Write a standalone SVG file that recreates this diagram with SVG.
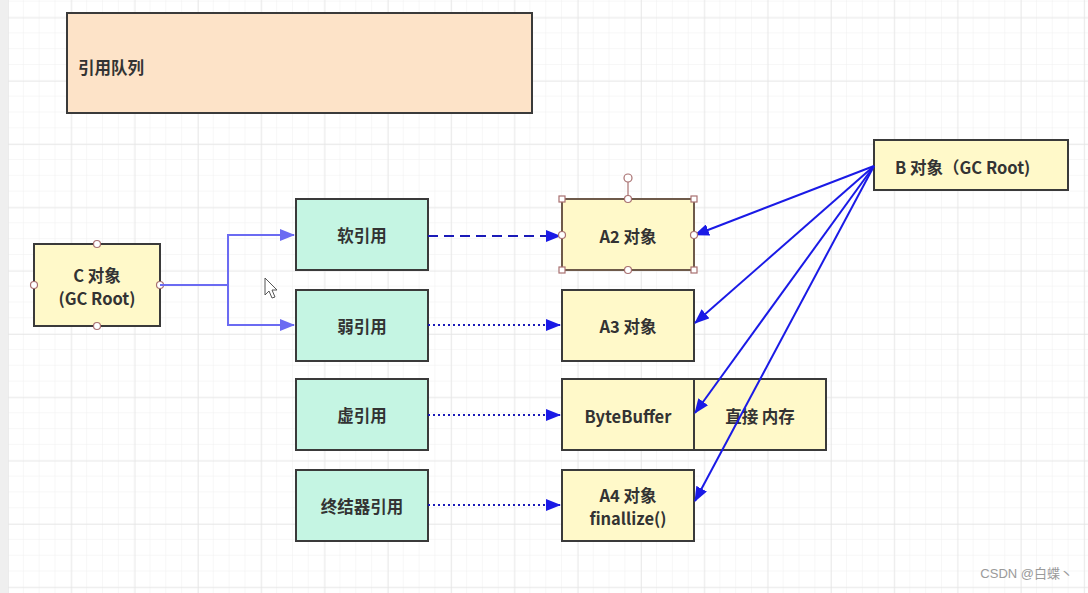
<svg xmlns="http://www.w3.org/2000/svg" width="1088" height="593" viewBox="0 0 1088 593">
<style>
.t{font-family:"Noto Sans CJK SC","Liberation Sans",sans-serif;font-size:16.5px;font-weight:bold;fill:#333;dominant-baseline:central}
.c{text-anchor:middle}
.box{stroke:#3a3a3a;stroke-width:2}
.yel{fill:#fff9c9}
.mint{fill:#c5f5e3}
.pt{fill:#fff;stroke:#a87070;stroke-width:1.2}
.ln{fill:none;stroke-width:2}
</style>
<defs>
<pattern id="minor" x="8" y="17.5" width="15.83" height="15.83" patternUnits="userSpaceOnUse">
<path d="M15.83 0V15.83M0 15.83H15.83" fill="none" stroke="#efefef" stroke-width="1"/>
</pattern>
<pattern id="major" x="8" y="17.5" width="63.3" height="63.3" patternUnits="userSpaceOnUse">
<path d="M0 0V63.3M0 0H63.3" fill="none" stroke="#e6e6e6" stroke-width="1.5"/>
</pattern>
<marker id="aP" markerUnits="userSpaceOnUse" markerWidth="16" markerHeight="12" refX="14" refY="6" orient="auto">
<path d="M0 0L15 6L0 12z" fill="#6b6bf2"/>
</marker>
<marker id="aB" markerUnits="userSpaceOnUse" markerWidth="16" markerHeight="12" refX="14" refY="6" orient="auto">
<path d="M0 0L15 6L0 12z" fill="#1a1ae6"/>
</marker>
</defs>
<rect width="1088" height="593" fill="#fff"/>
<rect width="1088" height="593" fill="url(#minor)"/>
<rect width="1088" height="593" fill="url(#major)"/>
<rect x="0" y="0" width="8" height="593" fill="#efefef"/>

<g id="queue">
<rect class="box" x="67" y="13" width="465" height="100" fill="#fde3c8"/>
<text class="t" x="78" y="67">引用队列</text>
</g>

<g id="nodeC">
<rect class="box yel" x="34" y="244" width="126" height="82"/>
<text class="t c" x="97" y="275">C 对象</text>
<text class="t c" x="97" y="298">(GC Root)</text>
<circle class="pt" cx="97" cy="244" r="3.5"/>
<circle class="pt" cx="34" cy="285" r="3.5"/>
<circle class="pt" cx="160" cy="285" r="3.5"/>
<circle class="pt" cx="97" cy="326" r="3.5"/>
</g>

<g id="soft"><rect class="box mint" x="296" y="199" width="132" height="71"/><text class="t c" x="362" y="235">软引用</text></g>
<g id="weak"><rect class="box mint" x="296" y="290" width="132" height="71"/><text class="t c" x="362" y="326">弱引用</text></g>
<g id="phantom"><rect class="box mint" x="296" y="379" width="132" height="71"/><text class="t c" x="362" y="415">虚引用</text></g>
<g id="final"><rect class="box mint" x="296" y="470" width="132" height="71"/><text class="t c" x="362" y="506">终结器引用</text></g>

<g id="A2">
<rect class="yel" x="562" y="199" width="132" height="71" stroke="#6e5a4a" stroke-width="2"/>
<text class="t c" x="628" y="236">A2 对象</text>
</g>
<g id="A3"><rect class="box yel" x="562" y="290" width="132" height="71"/><text class="t c" x="628" y="326">A3 对象</text></g>
<g id="bytebuffer">
<rect class="box yel" x="562" y="379" width="264" height="71"/>
<line x1="694" y1="379" x2="694" y2="450" stroke="#3a3a3a" stroke-width="2"/>
<text class="t c" x="628" y="416">ByteBuffer</text>
<text class="t c" x="760" y="416">直接 内存</text>
</g>
<g id="A4">
<rect class="box yel" x="562" y="470" width="132" height="71"/>
<text class="t c" x="628" y="495">A4 对象</text>
<text class="t c" x="628" y="518">finallize()</text>
</g>
<g id="B">
<rect class="box yel" x="874" y="140" width="194" height="50"/>
<text class="t" x="895" y="167">B 对象（GC Root)</text>
</g>

<g id="connectors">
<path class="ln" d="M160 285H228V235H294" stroke="#6b6bf2" marker-end="url(#aP)"/>
<path class="ln" d="M228 285V325H294" stroke="#6b6bf2" marker-end="url(#aP)"/>
<path class="ln" d="M428 236H560" stroke="#1a1ab8" stroke-dasharray="10 6" marker-end="url(#aB)"/>
<path class="ln" d="M428 325H560" stroke="#1a1ab8" stroke-dasharray="2 3" marker-end="url(#aB)"/>
<path class="ln" d="M428 415H560" stroke="#1a1ab8" stroke-dasharray="2 3" marker-end="url(#aB)"/>
<path class="ln" d="M428 505H560" stroke="#1a1ab8" stroke-dasharray="2 3" marker-end="url(#aB)"/>
<path class="ln" d="M874 166L695 235" stroke="#1a1ae6" marker-end="url(#aB)"/>
<path class="ln" d="M874 166L695 323" stroke="#1a1ae6" marker-end="url(#aB)"/>
<path class="ln" d="M874 166L695 413" stroke="#1a1ae6" marker-end="url(#aB)"/>
<path class="ln" d="M874 166L695 501" stroke="#1a1ae6" marker-end="url(#aB)"/>
</g>

<g id="A2-handles">
<line x1="628" y1="181" x2="628" y2="199" stroke="#a87070" stroke-width="1.2"/>
<circle class="pt" cx="628" cy="178" r="4"/>
<rect class="pt" x="559" y="196" width="6" height="6"/>
<rect class="pt" x="691" y="196" width="6" height="6"/>
<rect class="pt" x="559" y="267" width="6" height="6"/>
<rect class="pt" x="691" y="267" width="6" height="6"/>
<circle class="pt" cx="628" cy="199" r="3.5"/>
<circle class="pt" cx="628" cy="270" r="3.5"/>
<circle class="pt" cx="562" cy="235" r="3.5"/>
<circle class="pt" cx="694" cy="235" r="3.5"/>
</g>

<path d="M265 278V295L269 291L272 298L275 297L272 290L277 290Z" fill="#fff" stroke="#555" stroke-width="1"/>
<text x="1073" y="578" text-anchor="end" font-family="Liberation Sans,Noto Sans CJK SC,sans-serif" font-size="13" fill="#9a9a9a">CSDN @白蝶丶</text>
</svg>
